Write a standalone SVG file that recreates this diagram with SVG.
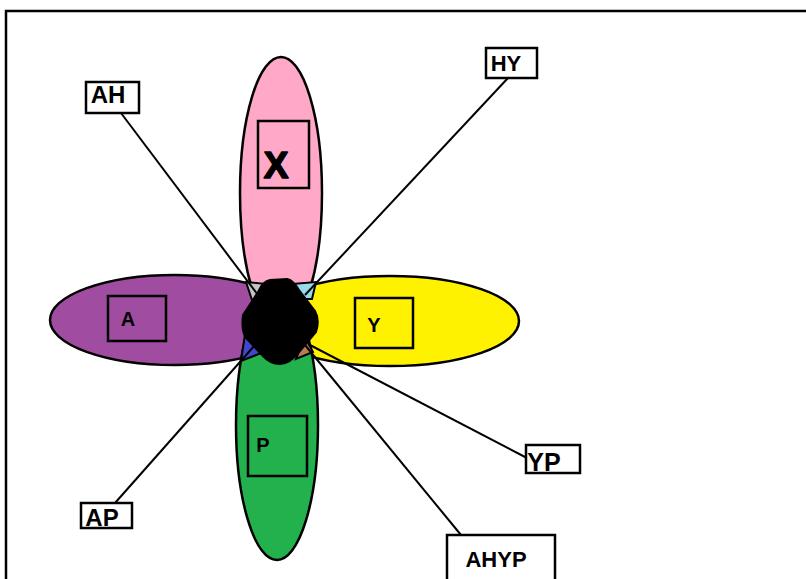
<svg xmlns="http://www.w3.org/2000/svg" width="806" height="579" viewBox="0 0 806 579">
<style>
.petal{stroke:#000;stroke-width:2.5}
.box{fill:none;stroke:#000;stroke-width:2.5}
.lbl{fill:#fff;stroke:#000;stroke-width:2.5}
.t{font-family:"Liberation Sans",Arial,sans-serif;font-weight:bold;fill:#000}
.c{stroke:#000;stroke-width:2;fill:none}
.r{stroke:#000;stroke-width:2}
</style>
<rect x="0" y="0" width="806" height="579" fill="#fff"/>
<rect x="6" y="11" width="820" height="600" fill="none" stroke="#000" stroke-width="2.5"/>
<g id="petal-X">
<ellipse class="petal" cx="281" cy="193" rx="41" ry="136" fill="#ffa8c8"/>
</g>
<g id="petal-A">
<ellipse class="petal" cx="175" cy="320" rx="125" ry="45" fill="#a04ca0"/>
</g>
<g id="petal-Y">
<ellipse class="petal" cx="390" cy="321" rx="129" ry="45" fill="#fff200"/>
</g>
<g id="petal-P">
<ellipse class="petal" cx="277" cy="425" rx="41" ry="135" fill="#22b14c"/>
</g>
<g id="regions">
<polygon class="r" points="246,282 266,284 253,303" fill="#c3c3c3"/>
<polygon class="r" points="292,284 316,282 312,299 300,299" fill="#99d9ea"/>
<polygon class="r" points="245,334 264,352 241,361" fill="#3f48cc"/>
<polygon class="r" points="305,337 313,352 296,359" fill="#b97a57"/>
</g>
<g id="connectors">
<line class="c" x1="121" y1="113" x2="258" y2="295"/>
<line class="c" x1="508" y1="78" x2="305" y2="295"/>
<line class="c" x1="115" y1="503" x2="255" y2="345"/>
<line class="c" x1="527" y1="458" x2="308" y2="344"/>
<line class="c" x1="461" y1="535" x2="305" y2="345"/>
</g>
<g id="center">
<path d="M270,280 L287,279 Q293,280 299,290 L315,311 Q320,320 316,332 L299,352 Q290,364 280,364 Q270,364 262,355 L246,338 Q241,330 243,315 L258,292 Q263,281 270,280 Z" fill="#000" stroke="#000" stroke-width="2"/>
</g>
<g id="node-X">
<rect class="box" x="258" y="121" width="51" height="67"/>
<text class="t" x="276" y="178" font-size="37" text-anchor="middle" stroke="#000" stroke-width="1.5" stroke-linejoin="round">X</text>
</g>
<g id="node-A">
<rect class="box" x="108" y="296" width="58" height="45"/>
<text class="t" x="128" y="326" font-size="20" text-anchor="middle">A</text>
</g>
<g id="node-Y">
<rect class="box" x="355" y="298" width="58" height="50"/>
<text class="t" x="374" y="332" font-size="20" text-anchor="middle">Y</text>
</g>
<g id="node-P">
<rect class="box" x="248" y="416" width="59" height="60"/>
<text class="t" x="263" y="452" font-size="20" text-anchor="middle">P</text>
</g>
<g id="label-AH">
<rect class="lbl" x="86" y="82" width="53" height="31"/>
<text class="t" x="108" y="103" font-size="24" text-anchor="middle">AH</text>
</g>
<g id="label-HY">
<rect class="lbl" x="486" y="48" width="51" height="30"/>
<text class="t" x="506" y="71" font-size="22" text-anchor="middle">HY</text>
</g>
<g id="label-AP">
<rect class="lbl" x="81" y="503" width="51" height="25"/>
<text class="t" x="102" y="526" font-size="24" text-anchor="middle">AP</text>
</g>
<g id="label-YP">
<rect class="lbl" x="526" y="445" width="54" height="28"/>
<text class="t" x="544" y="471" font-size="25" text-anchor="middle">YP</text>
</g>
<g id="label-AHYP">
<rect class="lbl" x="447" y="535" width="108" height="50"/>
<text class="t" x="496" y="567" font-size="22" text-anchor="middle">AHYP</text>
</g>
</svg>
